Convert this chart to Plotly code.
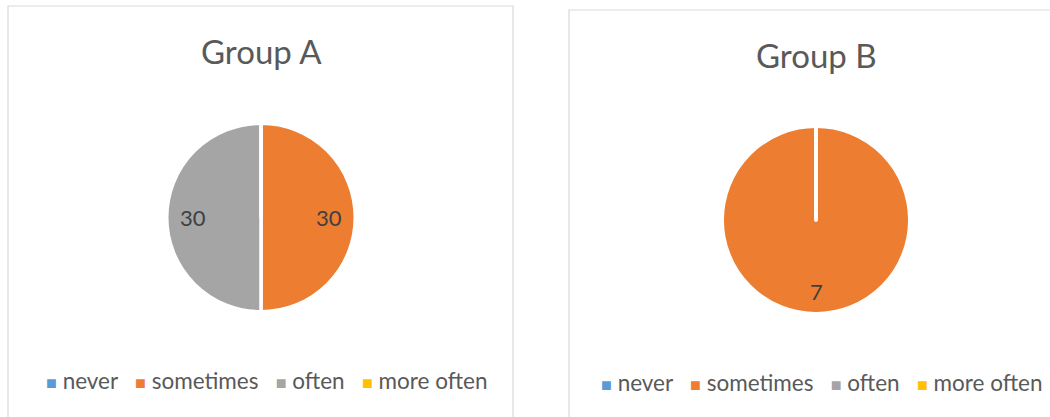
import math
import plotly.graph_objects as go

# Survey answers per group
labels = ["never", "sometimes", "often", "more often"]
group_a = [0, 30, 30, 0]
group_b = [0, 7, 0, 0]
colors = ["#5B9BD5", "#ED7D31", "#A5A5A5", "#FFC000"]
titles = ["Group A", "Group B"]

W, H = 1050, 417
FONT = "Lato, Open Sans, sans-serif"
TEXT = "#595959"
EDGE = 3.5


def px(x):
    return x / W


def py(y):
    return 1 - y / H


# panel layout in pixels: frame, pie centre/radius, title and legend rows
panels = [
    dict(values=group_a, title=titles[0], frame=(8, 6, 513, 430),
         cx=261, cy=217.5, r=92.5, title_x=261, title_y=51,
         legend_x=266.5, legend_y=380.5),
    dict(values=group_b, title=titles[1], frame=(569, 10, 1060, 430),
         cx=816, cy=220, r=92, title_x=816, title_y=55,
         legend_x=822, legend_y=382.5),
]

fig = go.Figure()
shapes = []
annotations = []

for p in panels:
    R = p["r"] + EDGE / 2
    fig.add_trace(go.Pie(
        labels=labels,
        values=p["values"],
        sort=False,
        direction="clockwise",
        rotation=0,
        marker=dict(colors=colors, line=dict(color="white", width=EDGE)),
        textinfo="none",
        hoverinfo="label+value",
        showlegend=False,
        domain=dict(x=[px(p["cx"] - R), px(p["cx"] + R)],
                    y=[py(p["cy"] + R), py(p["cy"] - R)]),
    ))

    # chart frame
    x0, y0, x1, y1 = p["frame"]
    shapes.append(dict(type="rect", xref="paper", yref="paper",
                       x0=px(x0), x1=px(x1), y0=py(y1), y1=py(y0),
                       line=dict(color="#D9D9D9", width=1.2), layer="below"))

    total = sum(p["values"])
    nonzero = [v for v in p["values"] if v > 0]
    # a single full slice still shows its start edge as a white radial line
    if len(nonzero) == 1:
        shapes.append(dict(type="line", xref="paper", yref="paper",
                           x0=px(p["cx"]), x1=px(p["cx"]),
                           y0=py(p["cy"]), y1=py(p["cy"] - p["r"] - 2),
                           line=dict(color="white", width=EDGE)))

    # data labels placed at each slice's mid angle
    cum = 0
    for v in p["values"]:
        if v > 0:
            ang = math.radians((cum + v / 2) / total * 360)
            k = 0.74 if len(nonzero) > 1 else 0.78
            lx = p["cx"] + k * p["r"] * math.sin(ang)
            ly = p["cy"] - k * p["r"] * math.cos(ang)
            annotations.append(dict(
                x=px(lx), y=py(ly), xref="paper", yref="paper",
                text=str(v), showarrow=False,
                font=dict(family=FONT, size=22, color="#404040"),
                xanchor="center", yanchor="middle"))
        cum += v

    # title
    annotations.append(dict(
        x=px(p["title_x"]), y=py(p["title_y"]), xref="paper", yref="paper",
        text=p["title"], showarrow=False,
        font=dict(family=FONT, size=33, color=TEXT),
        xanchor="center", yanchor="middle"))

    # legend row
    items = [
        f"<span style='color:{c};font-size:18px'>■</span>&nbsp;{lab}"
        for lab, c in zip(labels, colors)
    ]
    annotations.append(dict(
        x=px(p["legend_x"]), y=py(p["legend_y"]), xref="paper", yref="paper",
        text="&nbsp;&nbsp;&nbsp;".join(items), showarrow=False,
        font=dict(family=FONT, size=22.5, color=TEXT),
        xanchor="center", yanchor="middle"))

fig.update_layout(
    width=W, height=H,
    margin=dict(l=0, r=0, t=0, b=0),
    paper_bgcolor="white",
    plot_bgcolor="white",
    shapes=shapes,
    annotations=annotations,
    showlegend=False,
)

fig.write_html("out.html")
